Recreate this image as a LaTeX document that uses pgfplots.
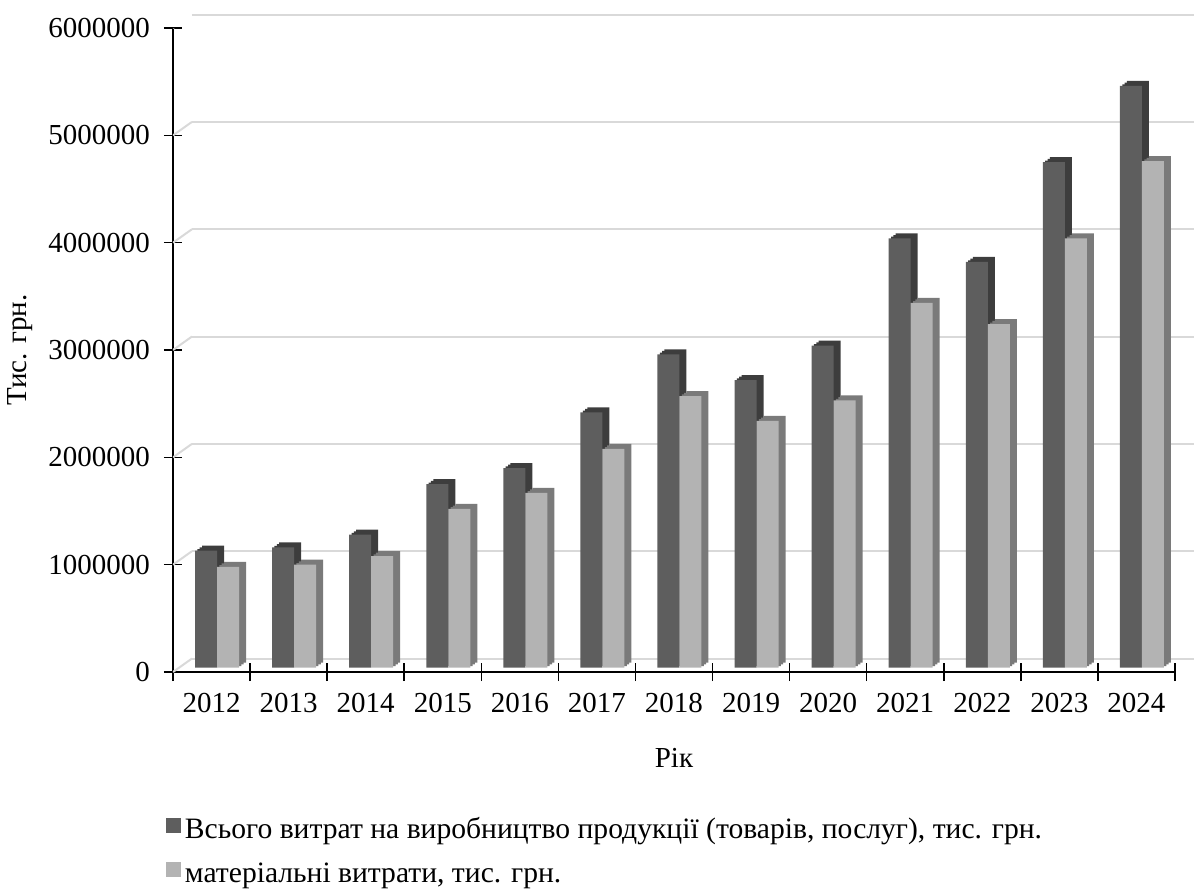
\documentclass[border=0pt]{standalone}
\usepackage{pgfplots}
\pgfplotsset{compat=1.18}
\usepackage{pgfplotstable}
\usepackage{fontspec}
\setmainfont{Liberation Serif}

\definecolor{darkfront}{HTML}{5E5E5E}
\definecolor{darkside}{HTML}{3D3D3D}
\definecolor{lightfront}{HTML}{B3B3B3}
\definecolor{lightside}{HTML}{7A7A7A}
\definecolor{gridc}{HTML}{D9D9D9}

\pgfplotstableread{
x total mat
0 1090000 940000
1 1120000 960000
2 1240000 1040000
3 1710000 1480000
4 1860000 1630000
5 2380000 2040000
6 2920000 2530000
7 2680000 2300000
8 3000000 2490000
9 4000000 3400000
10 3780000 3200000
11 4710000 4000000
12 5420000 4720000
}\data

\begin{document}
\begin{tikzpicture}[font=\fontsize{14.5}{17.5}\selectfont]
\begin{axis}[
  at={(0,0)}, anchor=south west,
  scale only axis, width=501pt, height=322pt,
  xmin=-0.5, xmax=12.5, ymin=0, ymax=6000000,
  ybar, bar width=11pt,
  axis x line*=bottom, axis y line*=left,
  axis line style={line width=1.25pt, black},
  xtick={0,...,12},
  xticklabels={2012,2013,2014,2015,2016,2017,2018,2019,2020,2021,2022,2023,2024},
  xticklabel style={yshift=-2.5pt},
  minor xtick={-0.5,0.5,...,12.5},
  ytick={0,1000000,...,6000000},
  scaled y ticks=false,
  yticklabel style={xshift=-3.5pt, /pgf/number format/.cd, fixed, precision=0, 1000 sep={}},
  /pgf/number format/assume math mode=true,
  tick align=center,
  major tick length=9pt, minor tick length=9pt,
  major x tick style={draw=none},
  minor x tick style={black, line width=0.75pt},
  major y tick style={black, line width=0.75pt},
  ymajorgrids,
  major grid style={draw=gridc, line width=1pt, xshift=9.5pt, yshift=6.75pt},
  xlabel={Рік},
  xlabel style={yshift=-11pt},
  ylabel={Тис. грн.},
  ylabel style={yshift=1pt},
  legend style={at={(0,0)}, anchor=north west, xshift=-3.5pt, yshift=-70.5pt,
    draw=none, fill=none, inner sep=0pt, row sep=6.5pt,
    font=\fontsize{14.8}{17.5}\selectfont, cells={anchor=west}},
  legend cell align=left,
]
\pgfplotsinvokeforeach{0,1000000,2000000,3000000,4000000,5000000,6000000}{
  \draw[gridc, line width=1pt] (axis cs:-0.5,#1) -- ++(9.5pt,6.75pt);
}
% dark series: side/top faces then front face
\addplot[fill=darkside, draw=none, bar shift=-1.583pt, yshift=2.983pt, forget plot] table[x=x,y=total]{\data};
\addplot[fill=darkside, draw=none, bar shift=-0.417pt, yshift=3.817pt, forget plot] table[x=x,y=total]{\data};
\addplot[fill=darkside, draw=none, bar shift=0.75pt, yshift=4.65pt, forget plot] table[x=x,y=total]{\data};
\addplot[fill=darkfront, draw=none, bar shift=-2.75pt, yshift=2.15pt,
  legend image code/.code={\fill[darkfront] (0pt,-3.65pt) rectangle (7.3pt,3.65pt);}] table[x=x,y=total]{\data};
\addlegendentry{Всього витрат на виробництво продукції (товарів, послуг), тис. грн.}
% light series
\addplot[fill=lightside, draw=none, bar shift=9.417pt, yshift=2.983pt, forget plot] table[x=x,y=mat]{\data};
\addplot[fill=lightside, draw=none, bar shift=10.583pt, yshift=3.817pt, forget plot] table[x=x,y=mat]{\data};
\addplot[fill=lightside, draw=none, bar shift=11.75pt, yshift=4.65pt, forget plot] table[x=x,y=mat]{\data};
\addplot[fill=lightfront, draw=none, bar shift=8.25pt, yshift=2.15pt,
  legend image code/.code={\fill[lightfront] (0pt,-3.65pt) rectangle (7.3pt,3.65pt);}] table[x=x,y=mat]{\data};
\addlegendentry{матеріальні витрати, тис. грн.}
\end{axis}
\pgfresetboundingbox
\path[use as bounding box] (-86.5pt,-109pt) rectangle (511pt,336pt);
\end{tikzpicture}
\end{document}
